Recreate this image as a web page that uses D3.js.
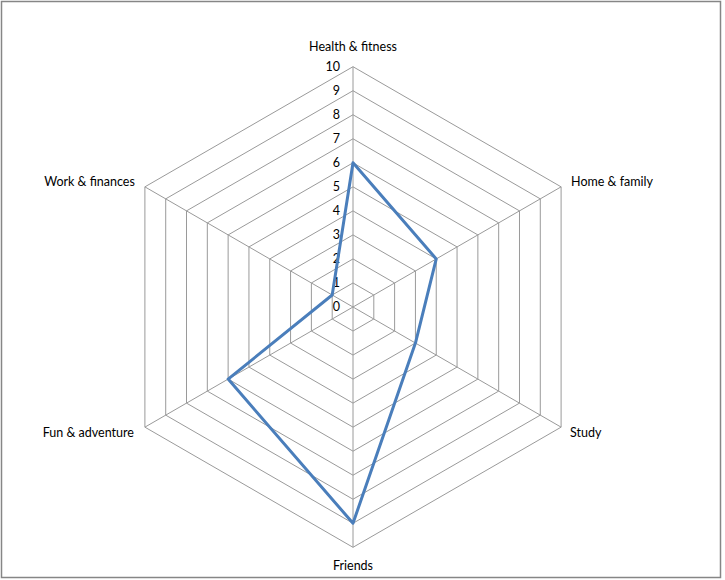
<!DOCTYPE html>
<html>
<head>
<meta charset="utf-8">
<script src="https://cdn.jsdelivr.net/npm/d3@7"></script>
<style>
  body { margin: 0; background: #fff; }
  svg { display: block; }
</style>
</head>
<body>
<div id="chart"></div>
<script>
// radar chart data
const categories = ["Health & fitness", "Home & family", "Study", "Friends", "Fun & adventure", "Work & finances"];
const values = [6, 4, 3, 9, 6, 1];
const ticks = [0, 1, 2, 3, 4, 5, 6, 7, 8, 9, 10];

function createRadar() {
    const width = 725, height = 580;
    const cx = 353, cy = 307, radius = 240.3;

    const svg = d3.select("#chart").append("svg")
        .attr("width", width)
        .attr("height", height)
        .style("font-family", "Lato, 'Open Sans', sans-serif");

    // chart border
    svg.append("rect")
        .attr("x", 1.5).attr("y", 1.5)
        .attr("width", 719).attr("height", 576)
        .attr("fill", "#fff")
        .attr("stroke", "#868686")
        .attr("stroke-width", 1.5);

    const r = d3.scaleLinear().domain([0, 10]).range([0, radius]);
    const angle = i => i * 2 * Math.PI / categories.length;
    const pt = (i, v) => [cx + r(v) * Math.sin(angle(i)), cy - r(v) * Math.cos(angle(i))];

    const g = svg.append("g");

    // hexagon grid rings
    ticks.slice(1).forEach(t => {
        g.append("polygon")
            .attr("points", categories.map((c, i) => pt(i, t).join(",")).join(" "))
            .attr("fill", "none")
            .attr("stroke", "#9a9a9a")
            .attr("stroke-width", 1);
    });

    // spokes
    categories.forEach((c, i) => {
        const [x, y] = pt(i, 10);
        g.append("line")
            .attr("x1", cx).attr("y1", cy)
            .attr("x2", x).attr("y2", y)
            .attr("stroke", "#9a9a9a")
            .attr("stroke-width", 1);
    });

    // tick labels along the top axis
    g.selectAll(".tick")
        .data(ticks)
        .enter()
        .append("text")
        .attr("x", cx - 13)
        .attr("y", d => cy - r(d))
        .attr("dy", "0.35em")
        .attr("text-anchor", "end")
        .attr("font-size", "12.5px")
        .attr("fill", "#000")
        .text(d => d);

    // category labels
    const labelPos = [
        { dx: 0, dy: -20, anchor: "middle" },
        { dx: 10, dy: -5, anchor: "start" },
        { dx: 9, dy: 5, anchor: "start" },
        { dx: 0, dy: 18, anchor: "middle" },
        { dx: -11, dy: 5, anchor: "end" },
        { dx: -10, dy: -5, anchor: "end" }
    ];
    categories.forEach((c, i) => {
        const [x, y] = pt(i, 10);
        g.append("text")
            .attr("x", x + labelPos[i].dx)
            .attr("y", y + labelPos[i].dy)
            .attr("dy", "0.35em")
            .attr("text-anchor", labelPos[i].anchor)
            .attr("font-size", "12.5px")
            .attr("fill", "#000")
            .text(c);
    });

    // data line
    const line = d3.line().curve(d3.curveLinearClosed);
    g.append("path")
        .attr("d", line(values.map((v, i) => pt(i, v))))
        .attr("fill", "none")
        .attr("stroke", "#4a7ebb")
        .attr("stroke-width", 3)
        .attr("stroke-linejoin", "round");
}

createRadar();
</script>
</body>
</html>
